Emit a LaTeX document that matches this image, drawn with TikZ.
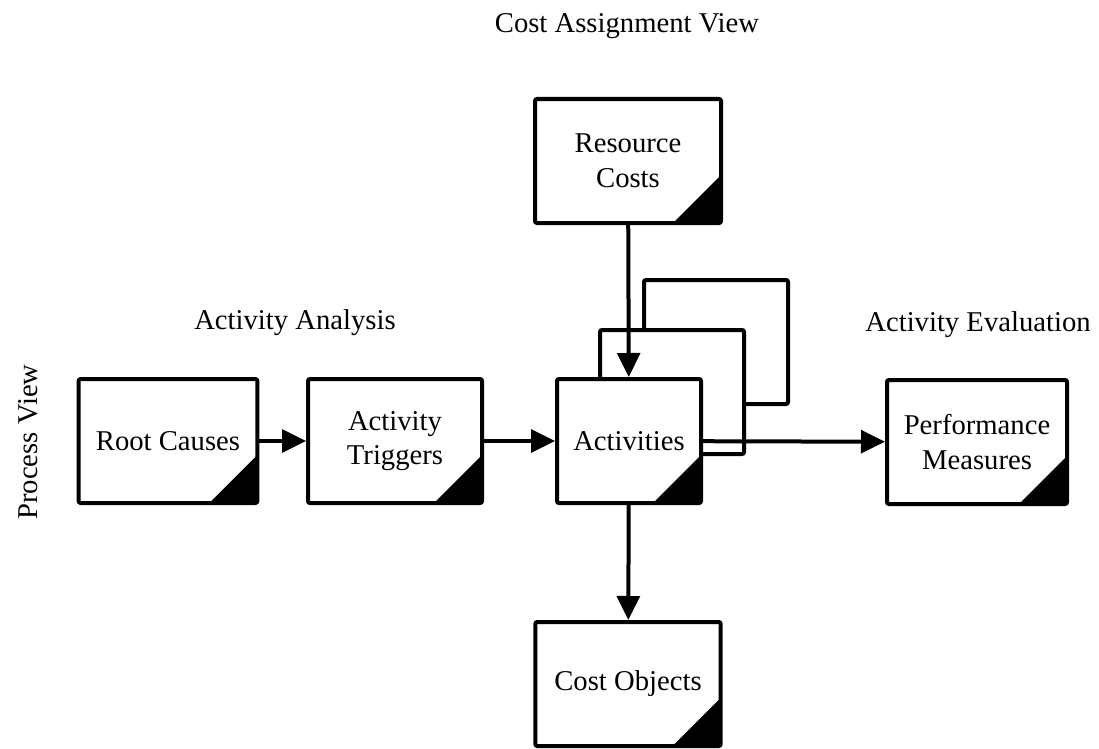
\documentclass[tikz,border=0pt]{standalone}
\usepackage{fontspec}
\setmainfont{Liberation Serif}
\usetikzlibrary{arrows.meta}
\tikzset{
    card/.style={draw, fill=white, line width=3pt, rounded corners=1.5pt,
        minimum height=93pt, inner sep=0pt, align=center,
        path picture={\fill[black] (path picture bounding box.south east)
            -- ++(-36pt,0pt) -- ++(36pt,36pt) -- cycle;}},
    ghost/.style={draw, fill=white, line width=3pt, rounded corners=1.5pt,
        minimum width=108pt, minimum height=93pt},
    flow/.style={line width=3pt, -{Triangle[length=18pt,width=17pt]}}
}
\begin{document}
\begin{tikzpicture}[x=0.75pt, y=-0.75pt, font=\fontsize{21.5}{26}\selectfont]
    \useasboundingbox (0,0) rectangle (1099,749);
    \node[ghost] (actback) at (716,342) {};
    \node[ghost] (actmid) at (672,392) {};
    \node[card, minimum width=108pt] (act) at (629,441) {Activities};
    \node[card, minimum width=134pt] (root) at (168,441) {Root Causes};
    \node[card, minimum width=130.5pt] (trig) at (395,441) {Activity\\Triggers};
    \node[card, minimum width=135pt] (perf) at (977,442) {Performance\\Measures};
    \node[card, minimum width=139.5pt] (res) at (628,161) {Resource\\Costs};
    \node[card, minimum width=139pt] (cobj) at (628,684) {Cost Objects};
    \node (costview) at (627,26) {Cost Assignment View};
    \node (analysis) at (295,323) {Activity Analysis};
    \node (evaluation) at (978,325) {Activity Evaluation};
    \node[rotate=90] (procview) at (28,442) {Process View};
    \draw[flow] (root) -- (trig);
    \draw[flow] (trig) -- (act);
    \draw[flow] (res) -- (act);
    \draw[flow] (act) -- (cobj);
    \draw[flow] (act) -- (perf);
\end{tikzpicture}
\end{document}
